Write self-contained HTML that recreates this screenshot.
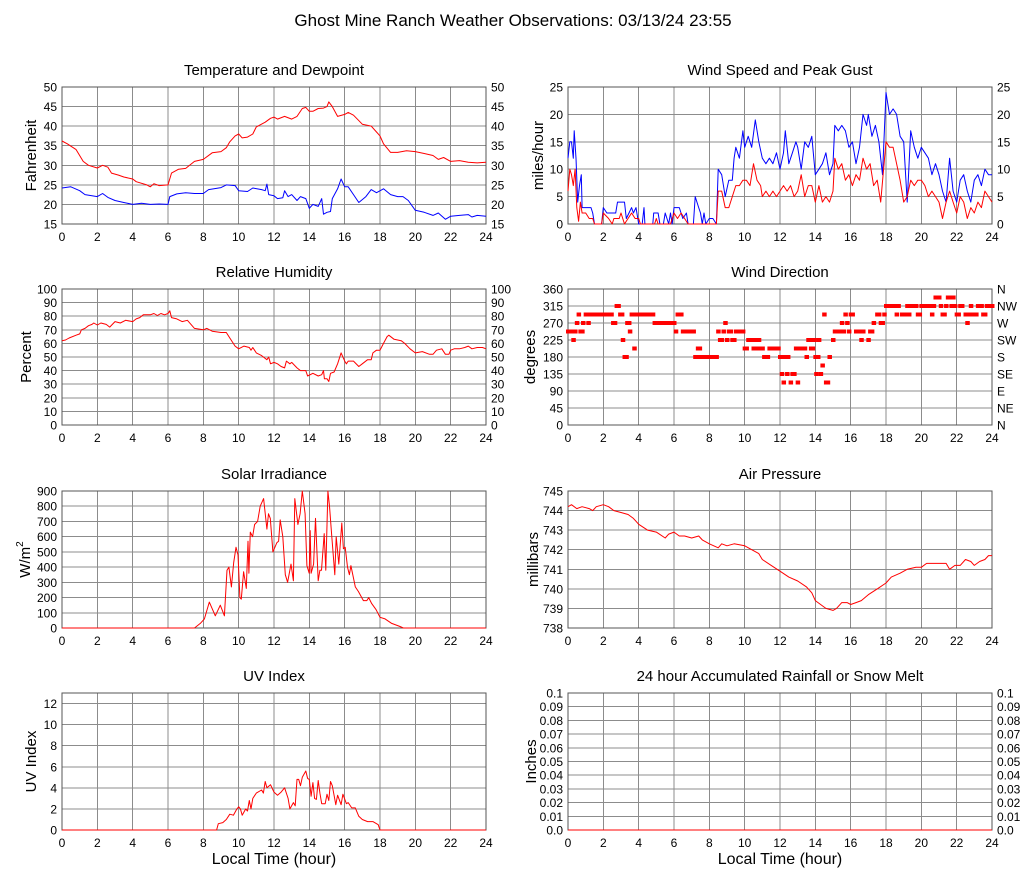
<!DOCTYPE html>
<html><head><meta charset="utf-8"><title>Ghost Mine Ranch Weather</title>
<style>
html,body{margin:0;padding:0;background:#fff;}
svg{display:block;font-family:"Liberation Sans",sans-serif;}
</style></head>
<body>
<svg id="chart" width="1027" height="878" viewBox="0 0 1027 878" xmlns="http://www.w3.org/2000/svg">
<text x="513" y="26" font-size="17" text-anchor="middle">Ghost Mine Ranch Weather Observations: 03/13/24 23:55</text>
</svg>
<script>
// ---- data ----
const hourTicks = [0,2,4,6,8,10,12,14,16,18,20,22,24];

const tempTimes = [0,0.3,0.8,1.2,1.5,2,2.3,2.6,2.8,3.2,3.5,4,4.2,4.8,5,5.2,5.5,6,6.2,6.6,7,7.5,8,8.5,9,9.3,9.5,9.8,10,10.2,10.5,10.8,11,11.5,11.8,12,12.2,12.6,13,13.3,13.6,13.8,14,14.2,14.5,14.8,15,15.1,15.3,15.6,16,16.2,16.5,17,17.5,17.8,18,18.2,18.6,19,19.5,20,20.5,21,21.3,21.6,22,22.5,23,23.5,24];
const tempValues = [36.2,35.5,34,31,30,29.3,30,29.5,28,27.5,27,26.5,25.8,25,24.5,25.3,24.8,25,28,29,29.2,31,31.5,33.2,33.5,34.5,36,37.5,38,37,37.2,38,39.8,41,42,42.3,41.8,42.5,41.8,42.5,44.5,44.8,43.8,43.8,44.5,44.6,45,46.2,45,42.5,43,43.5,42.8,40.5,40,38.5,37.5,35.5,33.3,33.3,33.7,33.5,33,32.5,31.5,32,31,31.2,30.8,30.6,30.8];
const dewTimes = [0,0.5,1,1.3,2,2.3,2.6,3,3.5,4,4.5,5,5.5,6,6.1,6.5,7,7.5,8,8.3,9,9.3,9.8,10,10.5,10.8,11.3,11.5,11.6,11.7,12,12.2,12.5,12.6,12.8,13,13.3,13.5,13.8,14,14.2,14.5,14.7,14.8,15,15.2,15.3,15.6,15.8,16,16.2,16.5,16.8,17.2,17.5,17.8,18.2,18.6,19,19.3,19.6,20,20.5,21,21.3,21.7,22,22.5,23,23.2,23.5,24];
const dewValues = [24.2,24.5,23.5,22.5,22,22.8,21.8,21,20.5,20,20.3,20,20.1,20,22,22.7,23,22.8,22.8,23.8,24.3,25,24.8,23.5,23.3,24.2,23.8,23.5,25.2,22.5,22.2,21.5,21.7,23.5,22,22.5,21,22,21.5,19,20,19.5,21.5,17.5,18,18.2,21.5,24,26.5,24.5,24.5,22.5,20.5,22,23.8,23,24,22.5,22,22,21,18.5,18,17.2,17.8,16.2,17,17.2,17.4,16.8,17.2,17];

const gustTimes = [0,0.1,0.2,0.3,0.35,0.45,0.55,0.65,0.75,0.8,1,1.3,1.4,1.5,1.9,2,2.2,2.7,2.8,3.2,3.3,3.6,3.7,3.85,4,4.2,4.3,4.35,4.8,4.85,5.1,5.2,5.4,5.5,5.7,5.8,5.9,6,6.3,6.5,6.7,6.8,7.1,7.2,7.4,7.5,7.6,7.7,7.8,8,8.2,8.4,8.5,8.7,8.9,9.1,9.3,9.4,9.5,9.7,9.9,10,10.2,10.4,10.6,10.8,11,11.2,11.4,11.6,11.8,12,12.2,12.3,12.5,12.7,12.9,13,13.2,13.4,13.6,13.8,14,14.2,14.4,14.6,14.8,15,15.1,15.3,15.5,15.7,15.9,16.1,16.3,16.5,16.7,16.9,17,17.2,17.4,17.6,17.8,18,18.2,18.4,18.6,18.8,19,19.2,19.4,19.6,19.8,20,20.2,20.4,20.6,20.8,21,21.2,21.4,21.6,21.8,22,22.2,22.4,22.6,22.8,23,23.2,23.4,23.6,23.8,24];
const gustValues = [12,15,15,12,17,12,4,7,9,3,3,3,2,0,0,3,2,2,4,4,1,3,2,3,0,0,3,0,0,2,2,0,0,2,0,2,0,3,3,1,2,0,0,5,3,2,0,2,0,1,1,0,10,9,5,8,8,12,14,12,17,14,16,14,19,15,12,11,12,11,13,10,13,17,11,13,15,14,10,15,14,16,9,10,11,13,9,11,18,17,18,17,14,15,11,14,20,18,20,16,18,15,9,24,20,21,20,16,15,4,17,14,12,14,13,12,9,11,9,6,4,12,6,4,8,9,6,4,8,9,7,10,9,9];
const speedTimes = [0,0.1,0.2,0.3,0.4,0.5,0.6,0.7,0.8,1,1.2,1.4,1.5,1.9,2,2.3,2.5,2.6,2.9,3,3.2,3.6,3.8,4,4.1,4.9,5,5.1,5.8,6,6.2,6.4,6.6,6.8,8.4,8.5,8.7,8.9,9.1,9.3,9.5,9.7,9.9,10.1,10.3,10.5,10.7,10.9,11,11.2,11.4,11.6,11.8,12,12.2,12.4,12.6,12.8,13,13.2,13.4,13.6,13.8,14,14.2,14.4,14.6,14.8,15,15.1,15.3,15.5,15.7,15.9,16.1,16.3,16.5,16.7,16.9,17.1,17.3,17.5,17.7,18,18.2,18.4,18.6,18.8,19,19.2,19.4,19.6,19.8,20,20.2,20.4,20.6,20.8,21,21.2,21.4,21.6,21.8,22,22.2,22.4,22.6,22.8,23,23.2,23.4,23.6,23.8,24];
const speedValues = [6,10,9,7,10,3,0.5,4,2,2,1,1,0,0,2,1,0,1,1,2,0,2,1,1,0,0,1,0,0,2,1,2,1,0,0,6,6,3,3,5,7,7,8,8,7,11,8,7,5,6,5,6,5,6,7,6,7,5,6,9,5,7,7,4,7,4,5,4,6,12,10,11,8,9,7,9,8,12,10,11,7,8,4,15,14,14,11,8,4,5,8,7,8,8,7,5,6,5,4,1,4,6,4,2,5,4,1,3,2,4,3,6,5,4];

const rhTimes = [0,0.2,0.4,0.8,1,1.1,1.3,1.5,1.7,1.8,2,2.2,2.5,2.7,3,3.3,3.6,4,4.2,4.4,4.6,5,5.2,5.4,5.6,5.8,6,6.1,6.2,6.5,6.8,7.1,7.5,8,8.2,8.5,9,9.3,9.5,9.8,10,10.3,10.6,10.7,10.8,11,11.3,11.6,11.7,11.8,12,12.2,12.4,12.6,12.7,12.9,13,13.3,13.5,13.8,13.9,14.2,14.5,14.7,14.8,14.85,15,15.1,15.2,15.4,15.6,15.8,16,16.1,16.2,16.5,16.8,17,17.3,17.5,17.6,17.8,18,18.2,18.4,18.5,18.8,19.2,19.4,19.7,20,20.4,20.8,21,21.2,21.5,21.7,21.9,22,22.2,22.5,22.8,23,23.2,23.5,23.8,24];
const rhValues = [62,62.5,64,66,67,70,71,73,74,75,73.5,75,74,72,76,75,77,76,78,79,81,81,82,80.5,82,81,82,84,79,78,76,77,71,70,71,69,68,68,64,58,56,58,57,55,57,53,51,48,50,45,46,45,43,42,47,45,46,42,40,40,36,38,36,37,40,34,34,32,38,39,45,53,47,45,47,47,43,45,48,48,53,55,55,60,65,66,63,62,60,56,53,54,52,52,55,56,52,52,55,56,56,57,58,56,57,57,56];

const dirTimes = [0,0.1,0.2,0.3,0.4,0.5,0.6,0.7,0.8,0.85,1.0,1.1,1.15,1.25,1.35,1.45,1.55,1.65,1.75,1.85,1.95,2.05,2.15,2.25,2.35,2.45,2.55,2.65,2.75,2.85,2.95,3.05,3.1,3.2,3.3,3.35,3.45,3.5,3.6,3.7,3.75,3.8,3.9,4.0,4.1,4.2,4.3,4.4,4.5,4.6,4.7,4.8,4.9,5.0,5.1,5.2,5.3,5.4,5.5,5.6,5.7,5.8,5.9,6.0,6.1,6.2,6.3,6.4,6.5,6.6,6.7,6.8,6.9,7.0,7.1,7.2,7.3,7.35,7.45,7.5,7.6,7.7,7.8,7.9,8.0,8.1,8.2,8.3,8.4,8.5,8.6,8.7,8.8,8.9,9.0,9.1,9.2,9.3,9.4,9.5,9.6,9.7,9.8,9.9,10.0,10.1,10.2,10.3,10.4,10.5,10.6,10.7,10.8,10.9,11.0,11.1,11.2,11.3,11.4,11.5,11.6,11.7,11.8,11.9,12.0,12.1,12.15,12.2,12.3,12.4,12.45,12.6,12.7,12.8,12.9,13.0,13.1,13.2,13.3,13.4,13.5,13.6,13.7,13.75,13.85,13.95,14.0,14.05,14.15,14.2,14.3,14.4,14.5,14.6,14.7,14.8,15.0,15.1,15.2,15.3,15.4,15.5,15.6,15.7,15.8,15.9,16.0,16.1,16.3,16.4,16.5,16.6,16.7,17.0,17.1,17.2,17.3,17.5,17.6,17.7,17.8,17.9,18.0,18.1,18.2,18.3,18.4,18.5,18.6,18.7,18.9,19.0,19.1,19.2,19.3,19.4,19.5,19.6,19.7,19.8,19.9,20.0,20.1,20.2,20.3,20.4,20.5,20.6,20.7,20.8,20.9,21.0,21.1,21.2,21.3,21.4,21.5,21.6,21.7,21.8,21.9,22.0,22.1,22.2,22.3,22.5,22.6,22.7,22.8,22.9,23.0,23.1,23.2,23.3,23.4,23.5,23.6,23.7,23.8,23.9,24.0];
const dirValues = [247.5,247.5,247.5,225,247.5,270,292.5,247.5,247.5,270,292.5,292.5,270,292.5,292.5,292.5,292.5,292.5,292.5,292.5,292.5,292.5,292.5,292.5,292.5,292.5,270,270,315,315,292.5,292.5,225,180,180,270,270,247.5,292.5,292.5,202.5,292.5,292.5,292.5,292.5,292.5,292.5,292.5,292.5,292.5,292.5,292.5,270,270,270,270,270,270,270,270,270,270,270,270,247.5,292.5,292.5,292.5,247.5,247.5,247.5,247.5,247.5,247.5,247.5,180,180,202.5,202.5,180,180,180,180,180,180,180,180,180,180,247.5,225,225,247.5,270,225,247.5,247.5,225,225,247.5,247.5,247.5,247.5,247.5,202.5,202.5,225,225,225,202.5,225,202.5,225,202.5,202.5,180,180,180,202.5,202.5,202.5,202.5,202.5,202.5,180,135,180,112.5,180,135,180,112.5,135,135,202.5,112.5,202.5,202.5,202.5,202.5,180,225,225,202.5,202.5,225,180,135,180,225,135,157.5,292.5,112.5,112.5,180,225,247.5,247.5,247.5,247.5,270,247.5,292.5,270,247.5,292.5,292.5,247.5,247.5,247.5,225,247.5,225,247.5,247.5,270,292.5,292.5,270,270,292.5,315,315,315,315,315,315,292.5,315,292.5,292.5,292.5,315,292.5,315,315,315,315,292.5,292.5,315,315,315,315,315,315,292.5,315,337.5,337.5,337.5,315,292.5,292.5,315,337.5,337.5,315,337.5,315,292.5,292.5,315,315,292.5,270,292.5,315,292.5,292.5,292.5,315,315,315,292.5,292.5,315,315,315,315];

const solarTimes = [0,7.5,7.83,8.06,8.34,8.68,8.96,9.19,9.34,9.45,9.59,9.72,9.85,9.96,10.07,10.15,10.28,10.43,10.53,10.58,10.66,10.79,10.9,11.07,11.22,11.41,11.6,11.69,11.79,11.94,12.16,12.26,12.35,12.5,12.64,12.77,12.96,13.1,13.18,13.35,13.48,13.6,13.76,13.86,13.99,14.05,14.1,14.24,14.35,14.5,14.6,14.69,14.84,14.93,15.05,15.14,15.27,15.44,15.52,15.67,15.84,15.93,16.03,16.16,16.27,16.35,16.6,16.78,17.06,17.25,17.36,17.53,17.78,18.0,18.29,18.66,19.13,19.32,24];
const solarValues = [0,0,30,60,170,80,150,80,380,400,270,430,530,480,200,190,370,260,570,360,630,600,680,700,800,850,650,750,720,500,560,570,710,600,350,300,420,310,850,680,750,900,750,410,360,640,360,420,720,310,380,380,620,380,900,800,600,350,600,420,690,520,530,400,350,410,270,240,180,180,200,160,120,70,60,30,10,0,0];

const pressTimes = [0,0.2,0.5,0.8,1.2,1.4,1.6,2.0,2.3,2.6,3,3.4,3.7,4.0,4.5,5.0,5.5,5.7,6.0,6.3,6.6,7.0,7.4,7.6,8.0,8.5,8.7,9,9.4,10,10.4,10.8,11,11.5,12,12.5,13,13.5,13.8,14,14.3,14.6,15,15.2,15.5,15.8,16,16.3,16.6,17,17.5,18,18.3,18.8,19.2,19.7,20,20.3,20.6,21,21.4,21.6,21.9,22.2,22.5,22.8,23,23.3,23.6,23.8,24];
const pressValues = [744.2,744.3,744.1,744.2,744.1,744.0,744.2,744.3,744.2,744.0,743.9,743.8,743.6,743.3,743.0,742.9,742.6,742.8,742.9,742.7,742.7,742.6,742.7,742.5,742.3,742.1,742.3,742.2,742.3,742.2,742.0,741.8,741.5,741.2,740.9,740.6,740.4,740.1,739.8,739.4,739.2,739.0,738.9,739.0,739.3,739.3,739.2,739.3,739.4,739.7,740.0,740.3,740.6,740.8,741.0,741.1,741.1,741.3,741.3,741.3,741.3,741.0,741.2,741.2,741.5,741.4,741.2,741.4,741.5,741.7,741.7];

const uvTimes = [0,8.75,8.85,9.1,9.3,9.5,9.7,9.9,10,10.1,10.2,10.4,10.5,10.6,10.7,10.8,11.0,11.3,11.4,11.5,11.6,11.8,12,12.2,12.4,12.6,12.8,12.9,13.1,13.2,13.3,13.4,13.5,13.6,13.8,13.9,14,14.1,14.2,14.3,14.4,14.5,14.6,14.7,14.9,15,15.1,15.2,15.3,15.5,15.6,15.8,15.9,16.1,16.2,16.4,16.6,16.8,17,17.3,17.6,17.9,18.0,24];
const uvValues = [0,0,0.6,0.7,1.0,1.5,1.4,2.0,2.2,2.0,1.4,2.0,1.8,2.8,2.0,3.0,3.5,3.8,3.5,4.6,4.0,4.3,3.6,3.3,3.6,4.0,3.0,2.0,2.6,2.3,4.8,4.8,4.2,5.0,5.6,4.9,4.8,3.2,4.5,3.0,2.9,4.7,3.5,2.5,2.5,3.4,2.8,4.6,4.2,2.4,3.3,2.4,3.4,2.5,2.6,2.1,2.1,1.3,1.0,0.8,0.8,0.5,0,0];

const rainTimes = [0,24];
const rainValues = [0,0];

const tempTicks = [15,20,25,30,35,40,45,50];
const windTicks = [0,5,10,15,20,25];
const rhTicks = [0,10,20,30,40,50,60,70,80,90,100];
const dirTicks = [0,45,90,135,180,225,270,315,360];
const dirLabels = ["N","NE","E","SE","S","SW","W","NW","N"];
const solarTicks = [0,100,200,300,400,500,600,700,800,900];
const pressTicks = [738,739,740,741,742,743,744,745];
const uvTicks = [0,2,4,6,8,10,12];
const rainTicks = [0,0.01,0.02,0.03,0.04,0.05,0.06,0.07,0.08,0.09,0.1];
const rainLabels = ["0.0","0.01","0.02","0.03","0.04","0.05","0.06","0.07","0.08","0.09","0.1"];

// ---- drawing ----
const NS = "http://www.w3.org/2000/svg";
const svg = document.getElementById("chart");
function mk(tag, attrs, parent){
  const e = document.createElementNS(NS, tag);
  for (const k in attrs) e.setAttribute(k, attrs[k]);
  (parent||svg).appendChild(e);
  return e;
}

function panel(o){
  const g = mk("g", {});
  
  
  const x0=o.x0, x1=o.x1, y0=o.y0, y1=o.y1;
  const xs = h => x0 + (h/24)*(x1-x0);
  const ys = v => y1 - (v-o.min)/(o.max-o.min)*(y1-y0);
  const t = mk("text", {x:(x0+x1)/2, y:y0-12, "font-size":15, "text-anchor":"middle"}, g);
  t.textContent = o.title;
  
  
  hourTicks.forEach(h=>{
    const l = mk("line",{x1:xs(h),x2:xs(h),y1:y0,y2:y1,stroke:"#8c8c8c","stroke-width":1,"shape-rendering":"crispEdges"},g);
    
    
    const lb = mk("text",{x:xs(h),y:y1+17,"font-size":12,"text-anchor":"middle"},g);
    lb.textContent = h;
    
    
  });
  o.ticks.forEach((v,i)=>{
    const l = mk("line",{x1:x0,x2:x1,y1:ys(v),y2:ys(v),stroke:"#8c8c8c","stroke-width":1,"shape-rendering":"crispEdges"},g);
    
    
    const lb = mk("text",{x:x0-5,y:ys(v)+4.5,"font-size":12,"text-anchor":"end"},g);
    lb.textContent = o.labels ? o.labels[i] : v;
    
    
    if (o.right){
      const rb = mk("text",{x:x1+5,y:ys(v)+4.5,"font-size":12,"text-anchor":"start"},g);
      rb.textContent = o.rightLabels ? o.rightLabels[i] : (o.labels ? o.labels[i] : v);
      
      
    }
  });
  const fr = mk("rect",{x:x0,y:y0,width:x1-x0,height:y1-y0,fill:"none",stroke:"#555","stroke-width":1,"shape-rendering":"crispEdges"},g);
  
  
  const yl = mk("text",{x:0,y:0,"font-size":15,"text-anchor":"middle",transform:`translate(${o.ylx},${(y0+y1)/2}) rotate(-90)`},g);
  if (o.ylabelHTML){ yl.innerHTML = o.ylabelHTML; } else { yl.textContent = o.ylabel; }
  
  
  if (o.xlabel){
    const xl = mk("text",{x:(x0+x1)/2,y:y1+34,"font-size":16,"text-anchor":"middle"},g);
    xl.textContent = "Local Time (hour)";
    
    
  }
  (o.series||[]).forEach(s=>{
    const d = s.t.map((h,i)=>(i?"L":"M")+xs(h).toFixed(1)+","+ys(s.v[i]).toFixed(1)).join("");
    const p = mk("path",{d:d,fill:"none",stroke:s.color,"stroke-width":1,"stroke-linejoin":"round"},g);
    
    
  });
  if (o.dots){
    o.dots.t.forEach((h,i)=>{
      const r = mk("rect",{x:xs(h)-2,y:ys(o.dots.v[i])-2,width:4.5,height:4,fill:"#ff0000"},g);
      
      
    });
  }
}

const L = {x0:62,x1:486}, R = {x0:568,x1:992};
const rows = [[87,224],[289,425],[491,628],[693,830]];

panel({name:"temperature-dewpoint-panel",title:"Temperature and Dewpoint",x0:L.x0,x1:L.x1,y0:rows[0][0],y1:rows[0][1],min:15,max:50,ticks:tempTicks,right:true,ylabel:"Fahrenheit",ylx:36,
  series:[{name:"temperature-line",t:tempTimes,v:tempValues,color:"#ff0000"},{name:"dewpoint-line",t:dewTimes,v:dewValues,color:"#0000ff"}]});
panel({name:"wind-speed-panel",title:"Wind Speed and Peak Gust",x0:R.x0,x1:R.x1,y0:rows[0][0],y1:rows[0][1],min:0,max:25,ticks:windTicks,right:true,ylabel:"miles/hour",ylx:543,
  series:[{name:"peak-gust-line",t:gustTimes,v:gustValues,color:"#0000ff"},{name:"wind-speed-line",t:speedTimes,v:speedValues,color:"#ff0000"}]});
panel({name:"humidity-panel",title:"Relative Humidity",x0:L.x0,x1:L.x1,y0:rows[1][0],y1:rows[1][1],min:0,max:100,ticks:rhTicks,right:true,ylabel:"Percent",ylx:31,
  series:[{name:"humidity-line",t:rhTimes,v:rhValues,color:"#ff0000"}]});
panel({name:"wind-direction-panel",title:"Wind Direction",x0:R.x0,x1:R.x1,y0:rows[1][0],y1:rows[1][1],min:0,max:360,ticks:dirTicks,right:true,rightLabels:dirLabels,ylabel:"degrees",ylx:535,
  dots:{t:dirTimes,v:dirValues}});
panel({name:"solar-panel",title:"Solar Irradiance",x0:L.x0,x1:L.x1,y0:rows[2][0],y1:rows[2][1],min:0,max:900,ticks:solarTicks,right:false,ylabelHTML:'W/m<tspan dy="-7" font-size="10">2</tspan>',ylx:30,
  series:[{name:"solar-line",t:solarTimes,v:solarValues,color:"#ff0000"}]});
panel({name:"pressure-panel",title:"Air Pressure",x0:R.x0,x1:R.x1,y0:rows[2][0],y1:rows[2][1],min:738,max:745,ticks:pressTicks,right:false,ylabel:"millibars",ylx:538,
  series:[{name:"pressure-line",t:pressTimes,v:pressValues,color:"#ff0000"}]});
panel({name:"uv-panel",title:"UV Index",x0:L.x0,x1:L.x1,y0:rows[3][0],y1:rows[3][1],min:0,max:13,ticks:uvTicks,right:false,ylabel:"UV Index",ylx:36,xlabel:true,
  series:[{name:"uv-line",t:uvTimes,v:uvValues,color:"#ff0000"}]});
panel({name:"rainfall-panel",title:"24 hour Accumulated Rainfall or Snow Melt",x0:R.x0,x1:R.x1,y0:rows[3][0],y1:rows[3][1],min:0,max:0.1,ticks:rainTicks,labels:rainLabels,right:true,ylabel:"Inches",ylx:536,xlabel:true,
  series:[{name:"rainfall-line",t:rainTimes,v:rainValues,color:"#ff0000"}]});
</script>
</body></html>
